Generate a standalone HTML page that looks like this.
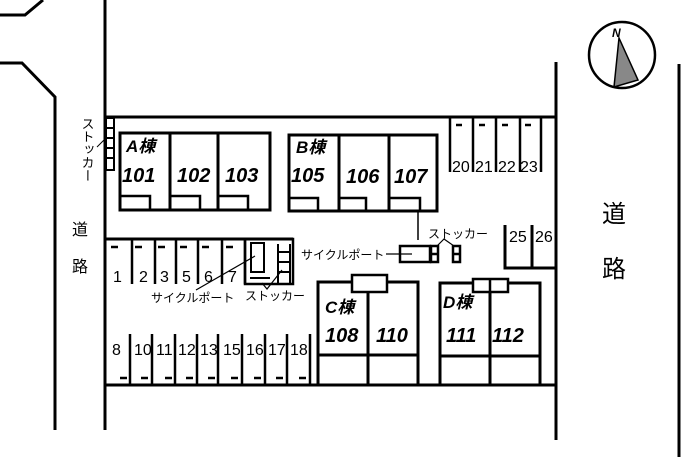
<!DOCTYPE html>
<html><head><meta charset="utf-8"><style>body{margin:0;background:#fff}svg{display:block}text{font-family:"Liberation Sans","Noto Sans CJK JP",sans-serif;fill:#000}.b{font-weight:bold;font-style:italic;font-size:20px}.n{font-size:16px}.s{font-size:12px}</style></head><body>
<svg width="700" height="457" viewBox="0 0 700 457" stroke="#000" fill="none" stroke-width="3">
<polyline points="0,15 25,15 43,0"/>
<polyline points="0,63 22,63 55,97 55,430"/>
<line x1="105" y1="0" x2="105" y2="430"/>
<line x1="105" y1="117" x2="556" y2="117"/>
<line x1="556" y1="62" x2="556" y2="440"/>
<line x1="679" y1="64" x2="679" y2="457"/>
<line x1="105" y1="385" x2="556" y2="385"/>
<g stroke-width="2"><rect x="106" y="118" width="8" height="52"/><line x1="106" y1="128" x2="114" y2="128"/><line x1="106" y1="138" x2="114" y2="138"/><line x1="106" y1="148" x2="114" y2="148"/><line x1="106" y1="158" x2="114" y2="158"/><line x1="97" y1="147" x2="107" y2="137" stroke-width="1"/></g>
<text stroke="none" x="87" y="117" style="writing-mode:vertical-rl;font-size:13px">ストッカー</text>
<rect x="120" y="133" width="150" height="77"/><line x1="170" y1="133" x2="170" y2="210"/><line x1="218" y1="133" x2="218" y2="210"/>
<g stroke-width="2.5"><polyline points="121,196 150,196 150,210"/><polyline points="171,196 200,196 200,210"/><polyline points="219,196 248,196 248,210"/></g>
<rect x="289" y="135" width="148" height="76"/><line x1="339" y1="135" x2="339" y2="211"/><line x1="389" y1="135" x2="389" y2="211"/>
<g stroke-width="2.5"><polyline points="290,198 318,198 318,211"/><polyline points="340,198 366,198 366,211"/><polyline points="390,198 420,198 420,211"/></g>
<line x1="418" y1="211" x2="418" y2="240" stroke-width="1.5"/>
<g stroke-width="2.5"><line x1="450" y1="118" x2="450" y2="172"/><line x1="473" y1="118" x2="473" y2="172"/><line x1="496" y1="118" x2="496" y2="172"/><line x1="520" y1="118" x2="520" y2="172"/><line x1="541" y1="118" x2="541" y2="172"/>
<line x1="456" y1="125" x2="462" y2="125"/><line x1="479" y1="125" x2="485" y2="125"/><line x1="502" y1="125" x2="508" y2="125"/><line x1="525" y1="125" x2="531" y2="125"/></g>
<polyline points="505,225 505,268 556,268"/><line x1="532" y1="225" x2="532" y2="268"/>
<line x1="105" y1="239" x2="293" y2="239"/>
<g stroke-width="2.5"><line x1="132" y1="239" x2="132" y2="284"/><line x1="155" y1="239" x2="155" y2="284"/><line x1="176" y1="239" x2="176" y2="284"/><line x1="198" y1="239" x2="198" y2="284"/><line x1="222" y1="239" x2="222" y2="284"/><line x1="245" y1="239" x2="245" y2="284"/>
<line x1="111" y1="247" x2="118" y2="247"/><line x1="135" y1="247" x2="142" y2="247"/><line x1="158" y1="247" x2="165" y2="247"/><line x1="180" y1="247" x2="187" y2="247"/><line x1="202" y1="247" x2="209" y2="247"/><line x1="226" y1="247" x2="233" y2="247"/></g>
<rect x="245" y="239" width="48" height="45" stroke-width="2.5"/>
<rect x="251" y="243" width="13" height="29" stroke-width="2"/>
<g stroke-width="2"><line x1="278" y1="244" x2="278" y2="284"/><line x1="290" y1="244" x2="290" y2="284"/><line x1="278" y1="252" x2="290" y2="252"/><line x1="278" y1="262" x2="290" y2="262"/><line x1="278" y1="272" x2="290" y2="272"/><line x1="250" y1="278" x2="270" y2="278"/></g>
<g stroke-width="1.2"><line x1="196" y1="290" x2="255" y2="256"/><polyline points="262,283 267,289 282,270"/></g>
<line x1="105" y1="334" x2="105" y2="385"/>
<g stroke-width="2.5"><line x1="130" y1="334" x2="130" y2="385"/><line x1="152" y1="334" x2="152" y2="385"/><line x1="175" y1="334" x2="175" y2="385"/><line x1="197" y1="334" x2="197" y2="385"/><line x1="218" y1="334" x2="218" y2="385"/><line x1="242" y1="334" x2="242" y2="385"/><line x1="265" y1="334" x2="265" y2="385"/><line x1="287" y1="334" x2="287" y2="385"/><line x1="310" y1="334" x2="310" y2="385"/>
<line x1="120" y1="378" x2="127" y2="378"/><line x1="141" y1="378" x2="148" y2="378"/><line x1="165" y1="378" x2="172" y2="378"/><line x1="186" y1="378" x2="193" y2="378"/><line x1="208" y1="378" x2="215" y2="378"/><line x1="231" y1="378" x2="238" y2="378"/><line x1="254" y1="378" x2="261" y2="378"/><line x1="276" y1="378" x2="283" y2="378"/><line x1="299" y1="378" x2="306" y2="378"/></g>
<rect x="318" y="282" width="100" height="103"/><line x1="368" y1="282" x2="368" y2="385"/><line x1="318" y1="355" x2="418" y2="355"/>
<rect x="352" y="275" width="35" height="17" fill="#fff" stroke-width="2.5"/>
<rect x="440" y="283" width="100" height="102"/><line x1="490" y1="283" x2="490" y2="385"/><line x1="440" y1="356" x2="540" y2="356"/>
<rect x="473" y="279" width="35" height="13" fill="#fff" stroke-width="2.5"/><line x1="490" y1="279" x2="490" y2="292" stroke-width="2.5"/>
<g stroke-width="2.5"><rect x="400" y="246" width="30" height="16"/><rect x="431" y="246" width="7" height="16"/><rect x="453" y="246" width="7" height="16"/><line x1="431" y1="254" x2="438" y2="254"/><line x1="453" y1="254" x2="460" y2="254"/></g>
<g stroke-width="1.2"><line x1="386" y1="254" x2="412" y2="254"/><polyline points="437,246 444,239 454,246"/></g>
<circle cx="622" cy="55" r="33" stroke-width="2.5"/>
<polygon points="619,38 638,80 614,87" fill="#888" stroke-width="1.5"/>
<g stroke="none">
<text class="b" x="612" y="37" style="font-size:12px">N</text>
<text class="b" x="126" y="152" style="font-size:17px">A棟</text>
<text class="b" x="122" y="182">101</text><text class="b" x="177" y="182">102</text><text class="b" x="225" y="182">103</text>
<text class="b" x="296" y="153" style="font-size:17px">B棟</text>
<text class="b" x="291" y="182">105</text><text class="b" x="346" y="183">106</text><text class="b" x="394" y="183">107</text>
<text class="b" x="325" y="313" style="font-size:17px">C棟</text>
<text class="b" x="325" y="342">108</text><text class="b" x="376" y="342">110</text>
<text class="b" x="443" y="308" style="font-size:17px">D棟</text>
<text class="b" x="446" y="342">111</text><text class="b" x="492" y="342">112</text>
<text class="n" x="452" y="172">20</text><text class="n" x="475" y="172">21</text><text class="n" x="498" y="172">22</text><text class="n" x="520" y="172">23</text>
<text class="n" x="509" y="242">25</text><text class="n" x="535" y="242">26</text>
<text class="n" x="113" y="282">1</text><text class="n" x="139" y="282">2</text><text class="n" x="160" y="282">3</text><text class="n" x="182" y="282">5</text><text class="n" x="204" y="282">6</text><text class="n" x="228" y="282">7</text>
<text class="n" x="112" y="355">8</text><text class="n" x="134" y="355">10</text><text class="n" x="156" y="355">11</text><text class="n" x="178" y="355">12</text><text class="n" x="200" y="355">13</text><text class="n" x="223" y="355">15</text><text class="n" x="246" y="355">16</text><text class="n" x="268" y="355">17</text><text class="n" x="290" y="355">18</text>
<text class="s" x="151" y="302">サイクルポート</text><text class="s" x="245" y="300">ストッカー</text>
<text class="s" x="301" y="259">サイクルポート</text><text class="s" x="428" y="238">ストッカー</text>
<text x="72" y="235" style="font-size:16px">道</text><text x="72" y="272" style="font-size:16px">路</text>
<text x="602" y="222" style="font-size:24px">道</text><text x="602" y="277" style="font-size:24px">路</text>
</g>
</svg>
</body></html>
